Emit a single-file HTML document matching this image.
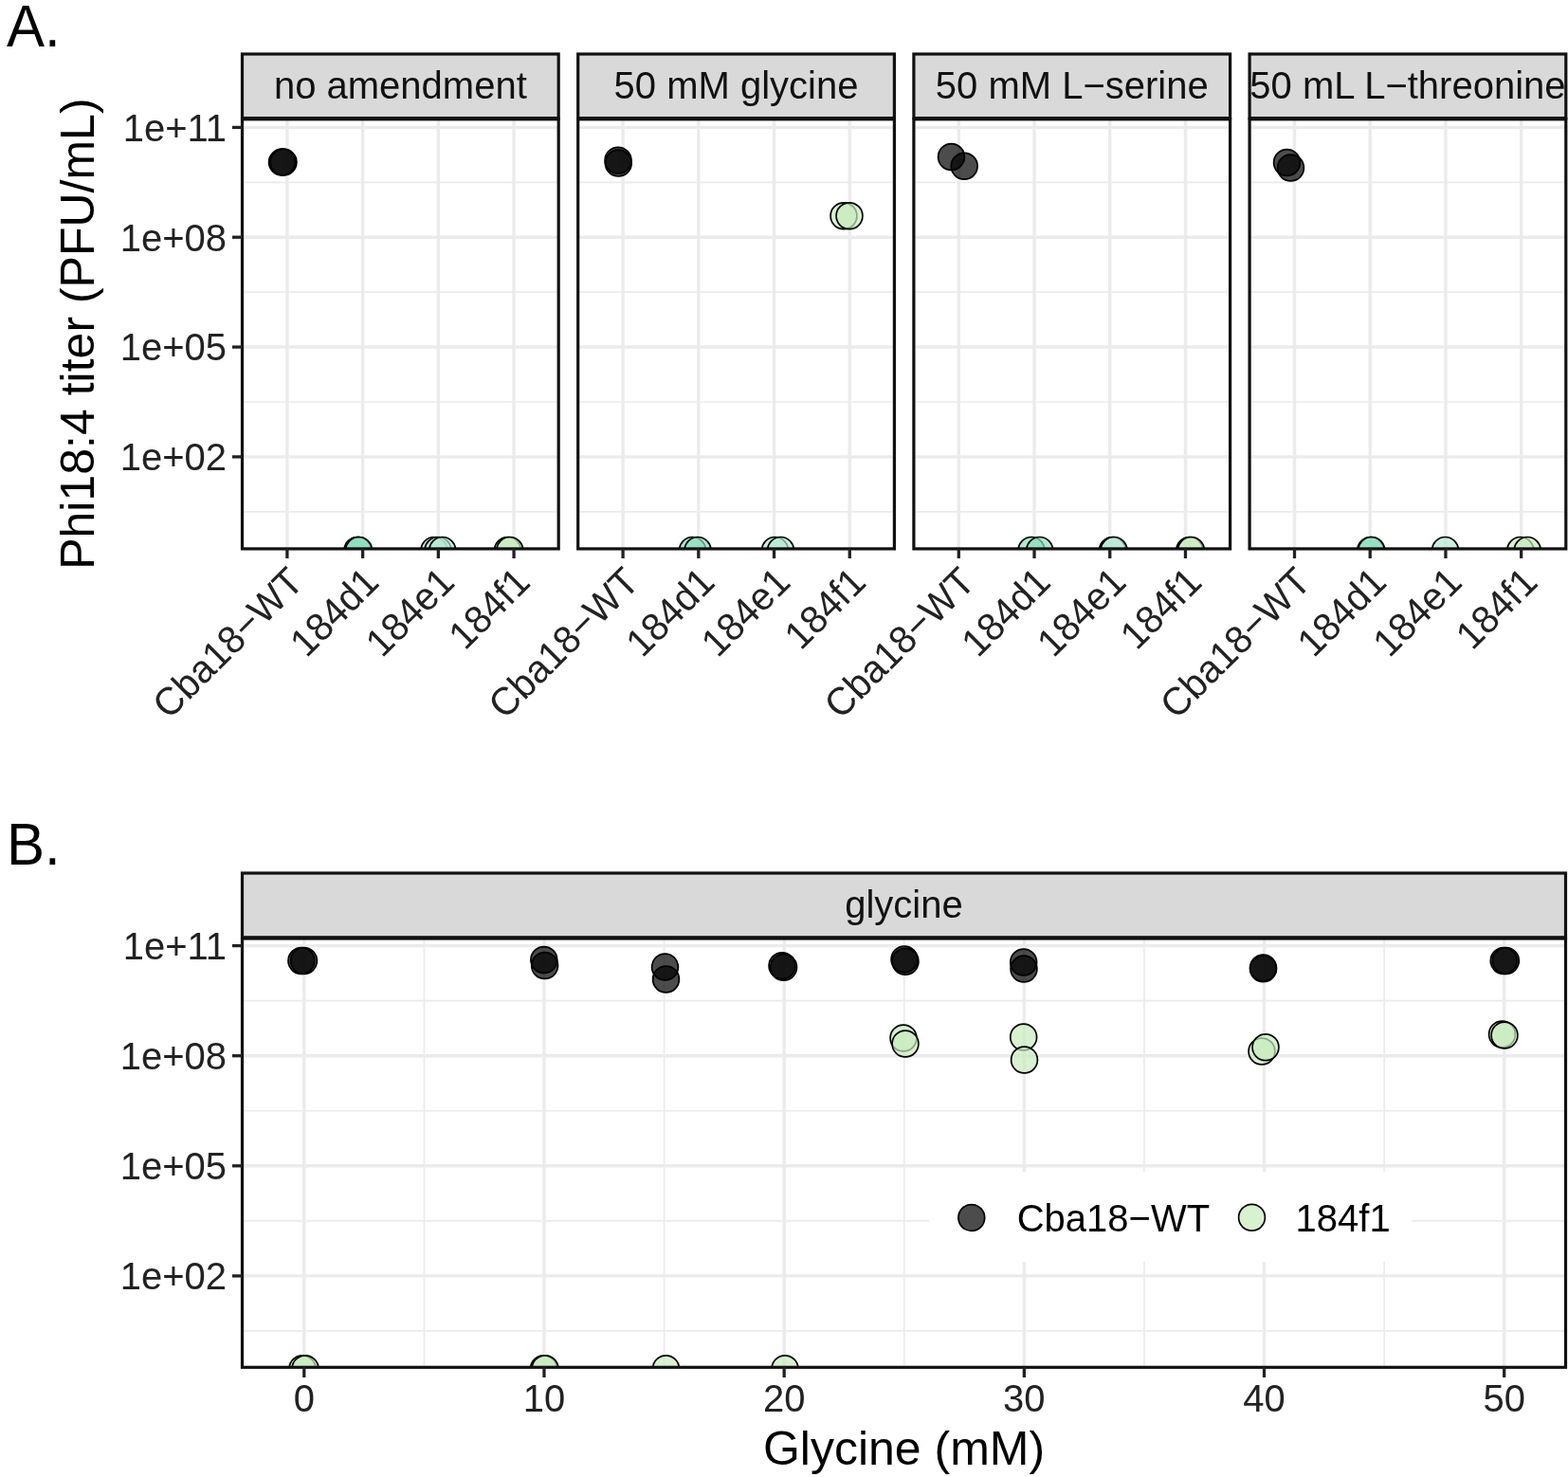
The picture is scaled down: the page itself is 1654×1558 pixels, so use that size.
<!DOCTYPE html>
<html><head><meta charset="utf-8"><title>Phi18:4 titer</title>
<style>html,body{margin:0;padding:0;background:#fff;}svg{display:block;}</style>
</head><body>
<svg width="1654" height="1558" viewBox="0 0 1654 1558" font-family='"Liberation Sans", Arial, Helvetica, sans-serif'>
<rect x="0" y="0" width="1654" height="1558" fill="#FFFFFF"/>
<defs>
<clipPath id="cpA0"><rect x="255.5" y="125.2" width="333.7" height="453.7"/></clipPath>
<clipPath id="csA0"><rect x="257" y="57" width="330.7" height="68.2"/></clipPath>
<clipPath id="cpA1"><rect x="609.7" y="125.2" width="333.7" height="453.7"/></clipPath>
<clipPath id="csA1"><rect x="611.2" y="57" width="330.7" height="68.2"/></clipPath>
<clipPath id="cpA2"><rect x="963.9" y="125.2" width="333.7" height="453.7"/></clipPath>
<clipPath id="csA2"><rect x="965.4" y="57" width="330.7" height="68.2"/></clipPath>
<clipPath id="cpA3"><rect x="1318.1" y="125.2" width="333.7" height="453.7"/></clipPath>
<clipPath id="csA3"><rect x="1319.6" y="57" width="330.7" height="68.2"/></clipPath>
<clipPath id="cpB"><rect x="255.5" y="989.4" width="1396" height="452.9"/></clipPath>
</defs>
<text x="0" y="0" font-size="60" fill="#000" text-anchor="start" transform="translate(7,48.9) scale(1,1.04)">A.</text>
<text x="0" y="0" font-size="60" fill="#000" text-anchor="start" transform="translate(7,912.1) scale(1,1.04)">B.</text>
<text x="0" y="0" font-size="50" fill="#000" text-anchor="middle" transform="translate(98.5,352.1) rotate(-90)">Phi18:4 titer (PFU/mL)</text>
<rect x="255.5" y="125.2" width="333.7" height="453.7" fill="#FFFFFF"/>
<g clip-path="url(#cpA0)">
<line x1="255.5" y1="192.31" x2="589.2" y2="192.31" stroke="#EBEBEB" stroke-width="1.7" stroke-linecap="butt"/>
<line x1="255.5" y1="308.14" x2="589.2" y2="308.14" stroke="#EBEBEB" stroke-width="1.7" stroke-linecap="butt"/>
<line x1="255.5" y1="423.98" x2="589.2" y2="423.98" stroke="#EBEBEB" stroke-width="1.7" stroke-linecap="butt"/>
<line x1="255.5" y1="539.8" x2="589.2" y2="539.8" stroke="#EBEBEB" stroke-width="1.7" stroke-linecap="butt"/>
<line x1="255.5" y1="134.4" x2="589.2" y2="134.4" stroke="#EBEBEB" stroke-width="3.4" stroke-linecap="butt"/>
<line x1="255.5" y1="250.23" x2="589.2" y2="250.23" stroke="#EBEBEB" stroke-width="3.4" stroke-linecap="butt"/>
<line x1="255.5" y1="366.06" x2="589.2" y2="366.06" stroke="#EBEBEB" stroke-width="3.4" stroke-linecap="butt"/>
<line x1="255.5" y1="481.89" x2="589.2" y2="481.89" stroke="#EBEBEB" stroke-width="3.4" stroke-linecap="butt"/>
<line x1="302.9" y1="125.2" x2="302.9" y2="578.9" stroke="#EBEBEB" stroke-width="3.4" stroke-linecap="butt"/>
<line x1="382.62" y1="125.2" x2="382.62" y2="578.9" stroke="#EBEBEB" stroke-width="3.4" stroke-linecap="butt"/>
<line x1="462.34" y1="125.2" x2="462.34" y2="578.9" stroke="#EBEBEB" stroke-width="3.4" stroke-linecap="butt"/>
<line x1="542.06" y1="125.2" x2="542.06" y2="578.9" stroke="#EBEBEB" stroke-width="3.4" stroke-linecap="butt"/>
<circle cx="297.5" cy="171.1" r="13.9" fill="#000000" fill-opacity="0.7" stroke="#000" stroke-width="1.7"/>
<circle cx="299" cy="171.1" r="13.9" fill="#000000" fill-opacity="0.7" stroke="#000" stroke-width="1.7"/>
<circle cx="377" cy="580.4" r="13.9" fill="#8FDDBE" fill-opacity="0.7" stroke="#000" stroke-width="1.7"/>
<circle cx="378" cy="580.4" r="13.9" fill="#8FDDBE" fill-opacity="0.7" stroke="#000" stroke-width="1.7"/>
<circle cx="378.5" cy="580.4" r="13.9" fill="#8FDDBE" fill-opacity="0.7" stroke="#000" stroke-width="1.7"/>
<circle cx="458" cy="580.4" r="13.9" fill="#B5E8D2" fill-opacity="0.7" stroke="#000" stroke-width="1.7"/>
<circle cx="462" cy="580.4" r="13.9" fill="#B5E8D2" fill-opacity="0.7" stroke="#000" stroke-width="1.7"/>
<circle cx="466.7" cy="580.4" r="13.9" fill="#B5E8D2" fill-opacity="0.7" stroke="#000" stroke-width="1.7"/>
<circle cx="535.5" cy="580.4" r="13.9" fill="#C7EBBE" fill-opacity="0.7" stroke="#000" stroke-width="1.7"/>
<circle cx="537.8" cy="580.4" r="13.9" fill="#C7EBBE" fill-opacity="0.7" stroke="#000" stroke-width="1.7"/>
</g>
<rect x="255.5" y="125.8" width="333.7" height="453.1" fill="none" stroke="#111111" stroke-width="3.2"/>
<rect x="255.5" y="57" width="333.7" height="67.6" fill="#D9D9D9" stroke="#111111" stroke-width="3.2"/>
<g clip-path="url(#csA0)">
<text x="422.35" y="104.3" font-size="40" fill="#111111" text-anchor="middle">no amendment</text>
</g>
<line x1="302.9" y1="578.9" x2="302.9" y2="589" stroke="#222222" stroke-width="3.3" stroke-linecap="butt"/>
<text x="0" y="0" font-size="40" fill="#222222" text-anchor="end" transform="translate(322.1,616.2) rotate(-45) scale(1,1.03)">Cba18−WT</text>
<line x1="382.62" y1="578.9" x2="382.62" y2="589" stroke="#222222" stroke-width="3.3" stroke-linecap="butt"/>
<text x="0" y="0" font-size="40" fill="#222222" text-anchor="end" transform="translate(401.82,616.2) rotate(-45) scale(1,1.03)">184d1</text>
<line x1="462.34" y1="578.9" x2="462.34" y2="589" stroke="#222222" stroke-width="3.3" stroke-linecap="butt"/>
<text x="0" y="0" font-size="40" fill="#222222" text-anchor="end" transform="translate(481.54,616.2) rotate(-45) scale(1,1.03)">184e1</text>
<line x1="542.06" y1="578.9" x2="542.06" y2="589" stroke="#222222" stroke-width="3.3" stroke-linecap="butt"/>
<text x="0" y="0" font-size="40" fill="#222222" text-anchor="end" transform="translate(561.26,616.2) rotate(-45) scale(1,1.03)">184f1</text>
<rect x="609.7" y="125.2" width="333.7" height="453.7" fill="#FFFFFF"/>
<g clip-path="url(#cpA1)">
<line x1="609.7" y1="192.31" x2="943.4" y2="192.31" stroke="#EBEBEB" stroke-width="1.7" stroke-linecap="butt"/>
<line x1="609.7" y1="308.14" x2="943.4" y2="308.14" stroke="#EBEBEB" stroke-width="1.7" stroke-linecap="butt"/>
<line x1="609.7" y1="423.98" x2="943.4" y2="423.98" stroke="#EBEBEB" stroke-width="1.7" stroke-linecap="butt"/>
<line x1="609.7" y1="539.8" x2="943.4" y2="539.8" stroke="#EBEBEB" stroke-width="1.7" stroke-linecap="butt"/>
<line x1="609.7" y1="134.4" x2="943.4" y2="134.4" stroke="#EBEBEB" stroke-width="3.4" stroke-linecap="butt"/>
<line x1="609.7" y1="250.23" x2="943.4" y2="250.23" stroke="#EBEBEB" stroke-width="3.4" stroke-linecap="butt"/>
<line x1="609.7" y1="366.06" x2="943.4" y2="366.06" stroke="#EBEBEB" stroke-width="3.4" stroke-linecap="butt"/>
<line x1="609.7" y1="481.89" x2="943.4" y2="481.89" stroke="#EBEBEB" stroke-width="3.4" stroke-linecap="butt"/>
<line x1="657.1" y1="125.2" x2="657.1" y2="578.9" stroke="#EBEBEB" stroke-width="3.4" stroke-linecap="butt"/>
<line x1="736.82" y1="125.2" x2="736.82" y2="578.9" stroke="#EBEBEB" stroke-width="3.4" stroke-linecap="butt"/>
<line x1="816.54" y1="125.2" x2="816.54" y2="578.9" stroke="#EBEBEB" stroke-width="3.4" stroke-linecap="butt"/>
<line x1="896.26" y1="125.2" x2="896.26" y2="578.9" stroke="#EBEBEB" stroke-width="3.4" stroke-linecap="butt"/>
<circle cx="652" cy="169.3" r="13.9" fill="#000000" fill-opacity="0.7" stroke="#000" stroke-width="1.7"/>
<circle cx="652.3" cy="172.1" r="13.9" fill="#000000" fill-opacity="0.7" stroke="#000" stroke-width="1.7"/>
<circle cx="730.5" cy="580.4" r="13.9" fill="#8FDDBE" fill-opacity="0.7" stroke="#000" stroke-width="1.7"/>
<circle cx="736" cy="580.4" r="13.9" fill="#8FDDBE" fill-opacity="0.7" stroke="#000" stroke-width="1.7"/>
<circle cx="817.5" cy="580.4" r="13.9" fill="#B5E8D2" fill-opacity="0.7" stroke="#000" stroke-width="1.7"/>
<circle cx="823.5" cy="580.4" r="13.9" fill="#B5E8D2" fill-opacity="0.7" stroke="#000" stroke-width="1.7"/>
<circle cx="890" cy="227.7" r="13.9" fill="#C7EBBE" fill-opacity="0.7" stroke="#000" stroke-width="1.7"/>
<circle cx="896" cy="227.7" r="13.9" fill="#C7EBBE" fill-opacity="0.7" stroke="#000" stroke-width="1.7"/>
</g>
<rect x="609.7" y="125.8" width="333.7" height="453.1" fill="none" stroke="#111111" stroke-width="3.2"/>
<rect x="609.7" y="57" width="333.7" height="67.6" fill="#D9D9D9" stroke="#111111" stroke-width="3.2"/>
<g clip-path="url(#csA1)">
<text x="776.55" y="104.3" font-size="40" fill="#111111" text-anchor="middle">50 mM glycine</text>
</g>
<line x1="657.1" y1="578.9" x2="657.1" y2="589" stroke="#222222" stroke-width="3.3" stroke-linecap="butt"/>
<text x="0" y="0" font-size="40" fill="#222222" text-anchor="end" transform="translate(676.3,616.2) rotate(-45) scale(1,1.03)">Cba18−WT</text>
<line x1="736.82" y1="578.9" x2="736.82" y2="589" stroke="#222222" stroke-width="3.3" stroke-linecap="butt"/>
<text x="0" y="0" font-size="40" fill="#222222" text-anchor="end" transform="translate(756.02,616.2) rotate(-45) scale(1,1.03)">184d1</text>
<line x1="816.54" y1="578.9" x2="816.54" y2="589" stroke="#222222" stroke-width="3.3" stroke-linecap="butt"/>
<text x="0" y="0" font-size="40" fill="#222222" text-anchor="end" transform="translate(835.74,616.2) rotate(-45) scale(1,1.03)">184e1</text>
<line x1="896.26" y1="578.9" x2="896.26" y2="589" stroke="#222222" stroke-width="3.3" stroke-linecap="butt"/>
<text x="0" y="0" font-size="40" fill="#222222" text-anchor="end" transform="translate(915.46,616.2) rotate(-45) scale(1,1.03)">184f1</text>
<rect x="963.9" y="125.2" width="333.7" height="453.7" fill="#FFFFFF"/>
<g clip-path="url(#cpA2)">
<line x1="963.9" y1="192.31" x2="1297.6" y2="192.31" stroke="#EBEBEB" stroke-width="1.7" stroke-linecap="butt"/>
<line x1="963.9" y1="308.14" x2="1297.6" y2="308.14" stroke="#EBEBEB" stroke-width="1.7" stroke-linecap="butt"/>
<line x1="963.9" y1="423.98" x2="1297.6" y2="423.98" stroke="#EBEBEB" stroke-width="1.7" stroke-linecap="butt"/>
<line x1="963.9" y1="539.8" x2="1297.6" y2="539.8" stroke="#EBEBEB" stroke-width="1.7" stroke-linecap="butt"/>
<line x1="963.9" y1="134.4" x2="1297.6" y2="134.4" stroke="#EBEBEB" stroke-width="3.4" stroke-linecap="butt"/>
<line x1="963.9" y1="250.23" x2="1297.6" y2="250.23" stroke="#EBEBEB" stroke-width="3.4" stroke-linecap="butt"/>
<line x1="963.9" y1="366.06" x2="1297.6" y2="366.06" stroke="#EBEBEB" stroke-width="3.4" stroke-linecap="butt"/>
<line x1="963.9" y1="481.89" x2="1297.6" y2="481.89" stroke="#EBEBEB" stroke-width="3.4" stroke-linecap="butt"/>
<line x1="1011.3" y1="125.2" x2="1011.3" y2="578.9" stroke="#EBEBEB" stroke-width="3.4" stroke-linecap="butt"/>
<line x1="1091.02" y1="125.2" x2="1091.02" y2="578.9" stroke="#EBEBEB" stroke-width="3.4" stroke-linecap="butt"/>
<line x1="1170.74" y1="125.2" x2="1170.74" y2="578.9" stroke="#EBEBEB" stroke-width="3.4" stroke-linecap="butt"/>
<line x1="1250.46" y1="125.2" x2="1250.46" y2="578.9" stroke="#EBEBEB" stroke-width="3.4" stroke-linecap="butt"/>
<circle cx="1003.5" cy="165.5" r="13.9" fill="#000000" fill-opacity="0.7" stroke="#000" stroke-width="1.7"/>
<circle cx="1017.2" cy="175.3" r="13.9" fill="#000000" fill-opacity="0.7" stroke="#000" stroke-width="1.7"/>
<circle cx="1088" cy="580.4" r="13.9" fill="#8FDDBE" fill-opacity="0.7" stroke="#000" stroke-width="1.7"/>
<circle cx="1096.7" cy="580.4" r="13.9" fill="#8FDDBE" fill-opacity="0.7" stroke="#000" stroke-width="1.7"/>
<circle cx="1173.5" cy="580.4" r="13.9" fill="#B5E8D2" fill-opacity="0.7" stroke="#000" stroke-width="1.7"/>
<circle cx="1175" cy="580.4" r="13.9" fill="#B5E8D2" fill-opacity="0.7" stroke="#000" stroke-width="1.7"/>
<circle cx="1254.8" cy="580.4" r="13.9" fill="#C7EBBE" fill-opacity="0.7" stroke="#000" stroke-width="1.7"/>
<circle cx="1256.4" cy="580.4" r="13.9" fill="#C7EBBE" fill-opacity="0.7" stroke="#000" stroke-width="1.7"/>
</g>
<rect x="963.9" y="125.8" width="333.7" height="453.1" fill="none" stroke="#111111" stroke-width="3.2"/>
<rect x="963.9" y="57" width="333.7" height="67.6" fill="#D9D9D9" stroke="#111111" stroke-width="3.2"/>
<g clip-path="url(#csA2)">
<text x="1130.75" y="104.3" font-size="40" fill="#111111" text-anchor="middle">50 mM L−serine</text>
</g>
<line x1="1011.3" y1="578.9" x2="1011.3" y2="589" stroke="#222222" stroke-width="3.3" stroke-linecap="butt"/>
<text x="0" y="0" font-size="40" fill="#222222" text-anchor="end" transform="translate(1030.5,616.2) rotate(-45) scale(1,1.03)">Cba18−WT</text>
<line x1="1091.02" y1="578.9" x2="1091.02" y2="589" stroke="#222222" stroke-width="3.3" stroke-linecap="butt"/>
<text x="0" y="0" font-size="40" fill="#222222" text-anchor="end" transform="translate(1110.22,616.2) rotate(-45) scale(1,1.03)">184d1</text>
<line x1="1170.74" y1="578.9" x2="1170.74" y2="589" stroke="#222222" stroke-width="3.3" stroke-linecap="butt"/>
<text x="0" y="0" font-size="40" fill="#222222" text-anchor="end" transform="translate(1189.94,616.2) rotate(-45) scale(1,1.03)">184e1</text>
<line x1="1250.46" y1="578.9" x2="1250.46" y2="589" stroke="#222222" stroke-width="3.3" stroke-linecap="butt"/>
<text x="0" y="0" font-size="40" fill="#222222" text-anchor="end" transform="translate(1269.66,616.2) rotate(-45) scale(1,1.03)">184f1</text>
<rect x="1318.1" y="125.2" width="333.7" height="453.7" fill="#FFFFFF"/>
<g clip-path="url(#cpA3)">
<line x1="1318.1" y1="192.31" x2="1651.8" y2="192.31" stroke="#EBEBEB" stroke-width="1.7" stroke-linecap="butt"/>
<line x1="1318.1" y1="308.14" x2="1651.8" y2="308.14" stroke="#EBEBEB" stroke-width="1.7" stroke-linecap="butt"/>
<line x1="1318.1" y1="423.98" x2="1651.8" y2="423.98" stroke="#EBEBEB" stroke-width="1.7" stroke-linecap="butt"/>
<line x1="1318.1" y1="539.8" x2="1651.8" y2="539.8" stroke="#EBEBEB" stroke-width="1.7" stroke-linecap="butt"/>
<line x1="1318.1" y1="134.4" x2="1651.8" y2="134.4" stroke="#EBEBEB" stroke-width="3.4" stroke-linecap="butt"/>
<line x1="1318.1" y1="250.23" x2="1651.8" y2="250.23" stroke="#EBEBEB" stroke-width="3.4" stroke-linecap="butt"/>
<line x1="1318.1" y1="366.06" x2="1651.8" y2="366.06" stroke="#EBEBEB" stroke-width="3.4" stroke-linecap="butt"/>
<line x1="1318.1" y1="481.89" x2="1651.8" y2="481.89" stroke="#EBEBEB" stroke-width="3.4" stroke-linecap="butt"/>
<line x1="1365.5" y1="125.2" x2="1365.5" y2="578.9" stroke="#EBEBEB" stroke-width="3.4" stroke-linecap="butt"/>
<line x1="1445.22" y1="125.2" x2="1445.22" y2="578.9" stroke="#EBEBEB" stroke-width="3.4" stroke-linecap="butt"/>
<line x1="1524.94" y1="125.2" x2="1524.94" y2="578.9" stroke="#EBEBEB" stroke-width="3.4" stroke-linecap="butt"/>
<line x1="1604.66" y1="125.2" x2="1604.66" y2="578.9" stroke="#EBEBEB" stroke-width="3.4" stroke-linecap="butt"/>
<circle cx="1357.5" cy="171.5" r="13.9" fill="#000000" fill-opacity="0.7" stroke="#000" stroke-width="1.7"/>
<circle cx="1361.5" cy="177" r="13.9" fill="#000000" fill-opacity="0.7" stroke="#000" stroke-width="1.7"/>
<circle cx="1445.8" cy="580.4" r="13.9" fill="#8FDDBE" fill-opacity="0.7" stroke="#000" stroke-width="1.7"/>
<circle cx="1446.7" cy="580.4" r="13.9" fill="#8FDDBE" fill-opacity="0.7" stroke="#000" stroke-width="1.7"/>
<circle cx="1524.5" cy="580.4" r="13.9" fill="#B5E8D2" fill-opacity="0.7" stroke="#000" stroke-width="1.7"/>
<circle cx="1603.8" cy="580.4" r="13.9" fill="#C7EBBE" fill-opacity="0.7" stroke="#000" stroke-width="1.7"/>
<circle cx="1611.2" cy="580.4" r="13.9" fill="#C7EBBE" fill-opacity="0.7" stroke="#000" stroke-width="1.7"/>
</g>
<rect x="1318.1" y="125.8" width="333.7" height="453.1" fill="none" stroke="#111111" stroke-width="3.2"/>
<rect x="1318.1" y="57" width="333.7" height="67.6" fill="#D9D9D9" stroke="#111111" stroke-width="3.2"/>
<g clip-path="url(#csA3)">
<text x="1484.95" y="104.3" font-size="40" fill="#111111" text-anchor="middle">50 mL L−threonine</text>
</g>
<line x1="1365.5" y1="578.9" x2="1365.5" y2="589" stroke="#222222" stroke-width="3.3" stroke-linecap="butt"/>
<text x="0" y="0" font-size="40" fill="#222222" text-anchor="end" transform="translate(1384.7,616.2) rotate(-45) scale(1,1.03)">Cba18−WT</text>
<line x1="1445.22" y1="578.9" x2="1445.22" y2="589" stroke="#222222" stroke-width="3.3" stroke-linecap="butt"/>
<text x="0" y="0" font-size="40" fill="#222222" text-anchor="end" transform="translate(1464.42,616.2) rotate(-45) scale(1,1.03)">184d1</text>
<line x1="1524.94" y1="578.9" x2="1524.94" y2="589" stroke="#222222" stroke-width="3.3" stroke-linecap="butt"/>
<text x="0" y="0" font-size="40" fill="#222222" text-anchor="end" transform="translate(1544.14,616.2) rotate(-45) scale(1,1.03)">184e1</text>
<line x1="1604.66" y1="578.9" x2="1604.66" y2="589" stroke="#222222" stroke-width="3.3" stroke-linecap="butt"/>
<text x="0" y="0" font-size="40" fill="#222222" text-anchor="end" transform="translate(1623.86,616.2) rotate(-45) scale(1,1.03)">184f1</text>
<line x1="245" y1="134.4" x2="255.5" y2="134.4" stroke="#222222" stroke-width="3.3" stroke-linecap="butt"/>
<text x="0" y="0" font-size="40" fill="#222222" text-anchor="end" transform="translate(239,148.7) scale(1,1.035)">1e+11</text>
<line x1="245" y1="250.23" x2="255.5" y2="250.23" stroke="#222222" stroke-width="3.3" stroke-linecap="butt"/>
<text x="0" y="0" font-size="40" fill="#222222" text-anchor="end" transform="translate(239,264.53) scale(1,1.035)">1e+08</text>
<line x1="245" y1="366.06" x2="255.5" y2="366.06" stroke="#222222" stroke-width="3.3" stroke-linecap="butt"/>
<text x="0" y="0" font-size="40" fill="#222222" text-anchor="end" transform="translate(239,380.36) scale(1,1.035)">1e+05</text>
<line x1="245" y1="481.89" x2="255.5" y2="481.89" stroke="#222222" stroke-width="3.3" stroke-linecap="butt"/>
<text x="0" y="0" font-size="40" fill="#222222" text-anchor="end" transform="translate(239,496.19) scale(1,1.035)">1e+02</text>
<rect x="255.5" y="989.4" width="1396" height="452.9" fill="#FFFFFF"/>
<g clip-path="url(#cpB)">
<line x1="255.5" y1="1055.65" x2="1651.5" y2="1055.65" stroke="#EBEBEB" stroke-width="1.7" stroke-linecap="butt"/>
<line x1="255.5" y1="1171.75" x2="1651.5" y2="1171.75" stroke="#EBEBEB" stroke-width="1.7" stroke-linecap="butt"/>
<line x1="255.5" y1="1287.85" x2="1651.5" y2="1287.85" stroke="#EBEBEB" stroke-width="1.7" stroke-linecap="butt"/>
<line x1="255.5" y1="1403.95" x2="1651.5" y2="1403.95" stroke="#EBEBEB" stroke-width="1.7" stroke-linecap="butt"/>
<line x1="447.39" y1="989.4" x2="447.39" y2="1442.3" stroke="#EBEBEB" stroke-width="1.7" stroke-linecap="butt"/>
<line x1="700.57" y1="989.4" x2="700.57" y2="1442.3" stroke="#EBEBEB" stroke-width="1.7" stroke-linecap="butt"/>
<line x1="953.75" y1="989.4" x2="953.75" y2="1442.3" stroke="#EBEBEB" stroke-width="1.7" stroke-linecap="butt"/>
<line x1="1206.93" y1="989.4" x2="1206.93" y2="1442.3" stroke="#EBEBEB" stroke-width="1.7" stroke-linecap="butt"/>
<line x1="1460.11" y1="989.4" x2="1460.11" y2="1442.3" stroke="#EBEBEB" stroke-width="1.7" stroke-linecap="butt"/>
<line x1="255.5" y1="997.6" x2="1651.5" y2="997.6" stroke="#EBEBEB" stroke-width="3.4" stroke-linecap="butt"/>
<line x1="255.5" y1="1113.7" x2="1651.5" y2="1113.7" stroke="#EBEBEB" stroke-width="3.4" stroke-linecap="butt"/>
<line x1="255.5" y1="1229.8" x2="1651.5" y2="1229.8" stroke="#EBEBEB" stroke-width="3.4" stroke-linecap="butt"/>
<line x1="255.5" y1="1345.9" x2="1651.5" y2="1345.9" stroke="#EBEBEB" stroke-width="3.4" stroke-linecap="butt"/>
<line x1="320.8" y1="989.4" x2="320.8" y2="1442.3" stroke="#EBEBEB" stroke-width="3.4" stroke-linecap="butt"/>
<line x1="573.98" y1="989.4" x2="573.98" y2="1442.3" stroke="#EBEBEB" stroke-width="3.4" stroke-linecap="butt"/>
<line x1="827.16" y1="989.4" x2="827.16" y2="1442.3" stroke="#EBEBEB" stroke-width="3.4" stroke-linecap="butt"/>
<line x1="1080.34" y1="989.4" x2="1080.34" y2="1442.3" stroke="#EBEBEB" stroke-width="3.4" stroke-linecap="butt"/>
<line x1="1333.52" y1="989.4" x2="1333.52" y2="1442.3" stroke="#EBEBEB" stroke-width="3.4" stroke-linecap="butt"/>
<line x1="1586.7" y1="989.4" x2="1586.7" y2="1442.3" stroke="#EBEBEB" stroke-width="3.4" stroke-linecap="butt"/>
<circle cx="317.9" cy="1013.5" r="13.9" fill="#000000" fill-opacity="0.7" stroke="#000" stroke-width="1.7"/>
<circle cx="320.5" cy="1013.5" r="13.9" fill="#000000" fill-opacity="0.7" stroke="#000" stroke-width="1.7"/>
<circle cx="573.8" cy="1012.5" r="13.9" fill="#000000" fill-opacity="0.7" stroke="#000" stroke-width="1.7"/>
<circle cx="574.6" cy="1018.5" r="13.9" fill="#000000" fill-opacity="0.7" stroke="#000" stroke-width="1.7"/>
<circle cx="701.5" cy="1020" r="13.9" fill="#000000" fill-opacity="0.7" stroke="#000" stroke-width="1.7"/>
<circle cx="702.5" cy="1033" r="13.9" fill="#000000" fill-opacity="0.7" stroke="#000" stroke-width="1.7"/>
<circle cx="825" cy="1018.7" r="13.9" fill="#000000" fill-opacity="0.7" stroke="#000" stroke-width="1.7"/>
<circle cx="826.6" cy="1020.3" r="13.9" fill="#000000" fill-opacity="0.7" stroke="#000" stroke-width="1.7"/>
<circle cx="954" cy="1012" r="13.9" fill="#000000" fill-opacity="0.7" stroke="#000" stroke-width="1.7"/>
<circle cx="955" cy="1014.2" r="13.9" fill="#000000" fill-opacity="0.7" stroke="#000" stroke-width="1.7"/>
<circle cx="1079.7" cy="1015" r="13.9" fill="#000000" fill-opacity="0.7" stroke="#000" stroke-width="1.7"/>
<circle cx="1080" cy="1022" r="13.9" fill="#000000" fill-opacity="0.7" stroke="#000" stroke-width="1.7"/>
<circle cx="1332.5" cy="1021" r="13.9" fill="#000000" fill-opacity="0.7" stroke="#000" stroke-width="1.7"/>
<circle cx="1332.5" cy="1021.8" r="13.9" fill="#000000" fill-opacity="0.7" stroke="#000" stroke-width="1.7"/>
<circle cx="1586.2" cy="1013.5" r="13.9" fill="#000000" fill-opacity="0.7" stroke="#000" stroke-width="1.7"/>
<circle cx="1588.4" cy="1013.5" r="13.9" fill="#000000" fill-opacity="0.7" stroke="#000" stroke-width="1.7"/>
<circle cx="319" cy="1443.8" r="13.9" fill="#C7EBBE" fill-opacity="0.7" stroke="#000" stroke-width="1.7"/>
<circle cx="322" cy="1443.8" r="13.9" fill="#C7EBBE" fill-opacity="0.7" stroke="#000" stroke-width="1.7"/>
<circle cx="573.5" cy="1443.8" r="13.9" fill="#C7EBBE" fill-opacity="0.7" stroke="#000" stroke-width="1.7"/>
<circle cx="575" cy="1443.8" r="13.9" fill="#C7EBBE" fill-opacity="0.7" stroke="#000" stroke-width="1.7"/>
<circle cx="702.5" cy="1443.8" r="13.9" fill="#C7EBBE" fill-opacity="0.7" stroke="#000" stroke-width="1.7"/>
<circle cx="828" cy="1443.8" r="13.9" fill="#C7EBBE" fill-opacity="0.7" stroke="#000" stroke-width="1.7"/>
<circle cx="953" cy="1095" r="13.9" fill="#C7EBBE" fill-opacity="0.7" stroke="#000" stroke-width="1.7"/>
<circle cx="955" cy="1101" r="13.9" fill="#C7EBBE" fill-opacity="0.7" stroke="#000" stroke-width="1.7"/>
<circle cx="1079.7" cy="1094" r="13.9" fill="#C7EBBE" fill-opacity="0.7" stroke="#000" stroke-width="1.7"/>
<circle cx="1080.5" cy="1118" r="13.9" fill="#C7EBBE" fill-opacity="0.7" stroke="#000" stroke-width="1.7"/>
<circle cx="1331" cy="1109" r="13.9" fill="#C7EBBE" fill-opacity="0.7" stroke="#000" stroke-width="1.7"/>
<circle cx="1335" cy="1104.7" r="13.9" fill="#C7EBBE" fill-opacity="0.7" stroke="#000" stroke-width="1.7"/>
<circle cx="1584.5" cy="1091" r="13.9" fill="#C7EBBE" fill-opacity="0.7" stroke="#000" stroke-width="1.7"/>
<circle cx="1587" cy="1092" r="13.9" fill="#C7EBBE" fill-opacity="0.7" stroke="#000" stroke-width="1.7"/>
</g>
<rect x="255.5" y="990" width="1396" height="452.3" fill="none" stroke="#111111" stroke-width="3.2"/>
<rect x="255.5" y="921" width="1396" height="67.8" fill="#D9D9D9" stroke="#111111" stroke-width="3.2"/>
<text x="953.5" y="968.4" font-size="40" fill="#111111" text-anchor="middle">glycine</text>
<line x1="245" y1="997.6" x2="255.5" y2="997.6" stroke="#222222" stroke-width="3.3" stroke-linecap="butt"/>
<text x="0" y="0" font-size="40" fill="#222222" text-anchor="end" transform="translate(239,1011.9) scale(1,1.035)">1e+11</text>
<line x1="245" y1="1113.7" x2="255.5" y2="1113.7" stroke="#222222" stroke-width="3.3" stroke-linecap="butt"/>
<text x="0" y="0" font-size="40" fill="#222222" text-anchor="end" transform="translate(239,1128) scale(1,1.035)">1e+08</text>
<line x1="245" y1="1229.8" x2="255.5" y2="1229.8" stroke="#222222" stroke-width="3.3" stroke-linecap="butt"/>
<text x="0" y="0" font-size="40" fill="#222222" text-anchor="end" transform="translate(239,1244.1) scale(1,1.035)">1e+05</text>
<line x1="245" y1="1345.9" x2="255.5" y2="1345.9" stroke="#222222" stroke-width="3.3" stroke-linecap="butt"/>
<text x="0" y="0" font-size="40" fill="#222222" text-anchor="end" transform="translate(239,1360.2) scale(1,1.035)">1e+02</text>
<line x1="320.8" y1="1442.3" x2="320.8" y2="1453" stroke="#222222" stroke-width="3.3" stroke-linecap="butt"/>
<text x="0" y="0" font-size="40" fill="#222222" text-anchor="middle" transform="translate(320.8,1488.8) scale(1,1.035)">0</text>
<line x1="573.98" y1="1442.3" x2="573.98" y2="1453" stroke="#222222" stroke-width="3.3" stroke-linecap="butt"/>
<text x="0" y="0" font-size="40" fill="#222222" text-anchor="middle" transform="translate(573.98,1488.8) scale(1,1.035)">10</text>
<line x1="827.16" y1="1442.3" x2="827.16" y2="1453" stroke="#222222" stroke-width="3.3" stroke-linecap="butt"/>
<text x="0" y="0" font-size="40" fill="#222222" text-anchor="middle" transform="translate(827.16,1488.8) scale(1,1.035)">20</text>
<line x1="1080.34" y1="1442.3" x2="1080.34" y2="1453" stroke="#222222" stroke-width="3.3" stroke-linecap="butt"/>
<text x="0" y="0" font-size="40" fill="#222222" text-anchor="middle" transform="translate(1080.34,1488.8) scale(1,1.035)">30</text>
<line x1="1333.52" y1="1442.3" x2="1333.52" y2="1453" stroke="#222222" stroke-width="3.3" stroke-linecap="butt"/>
<text x="0" y="0" font-size="40" fill="#222222" text-anchor="middle" transform="translate(1333.52,1488.8) scale(1,1.035)">40</text>
<line x1="1586.7" y1="1442.3" x2="1586.7" y2="1453" stroke="#222222" stroke-width="3.3" stroke-linecap="butt"/>
<text x="0" y="0" font-size="40" fill="#222222" text-anchor="middle" transform="translate(1586.7,1488.8) scale(1,1.035)">50</text>
<text x="953.5" y="1544.5" font-size="50" fill="#000" text-anchor="middle">Glycine (mM)</text>
<rect x="980" y="1236" width="509" height="95" fill="#FFFFFF"/>
<circle cx="1024.8" cy="1284.5" r="13.9" fill="#000" fill-opacity="0.7" stroke="#000" stroke-width="1.7"/>
<text x="0" y="0" font-size="40" fill="#000" text-anchor="start" transform="translate(1072.7,1299) scale(1,1.03)">Cba18−WT</text>
<circle cx="1320.5" cy="1284.3" r="13.9" fill="#C7EBBE" fill-opacity="0.7" stroke="#000" stroke-width="1.7"/>
<text x="0" y="0" font-size="40" fill="#000" text-anchor="start" transform="translate(1366.6,1299) scale(1,1.03)">184f1</text>
</svg>
</body></html>
